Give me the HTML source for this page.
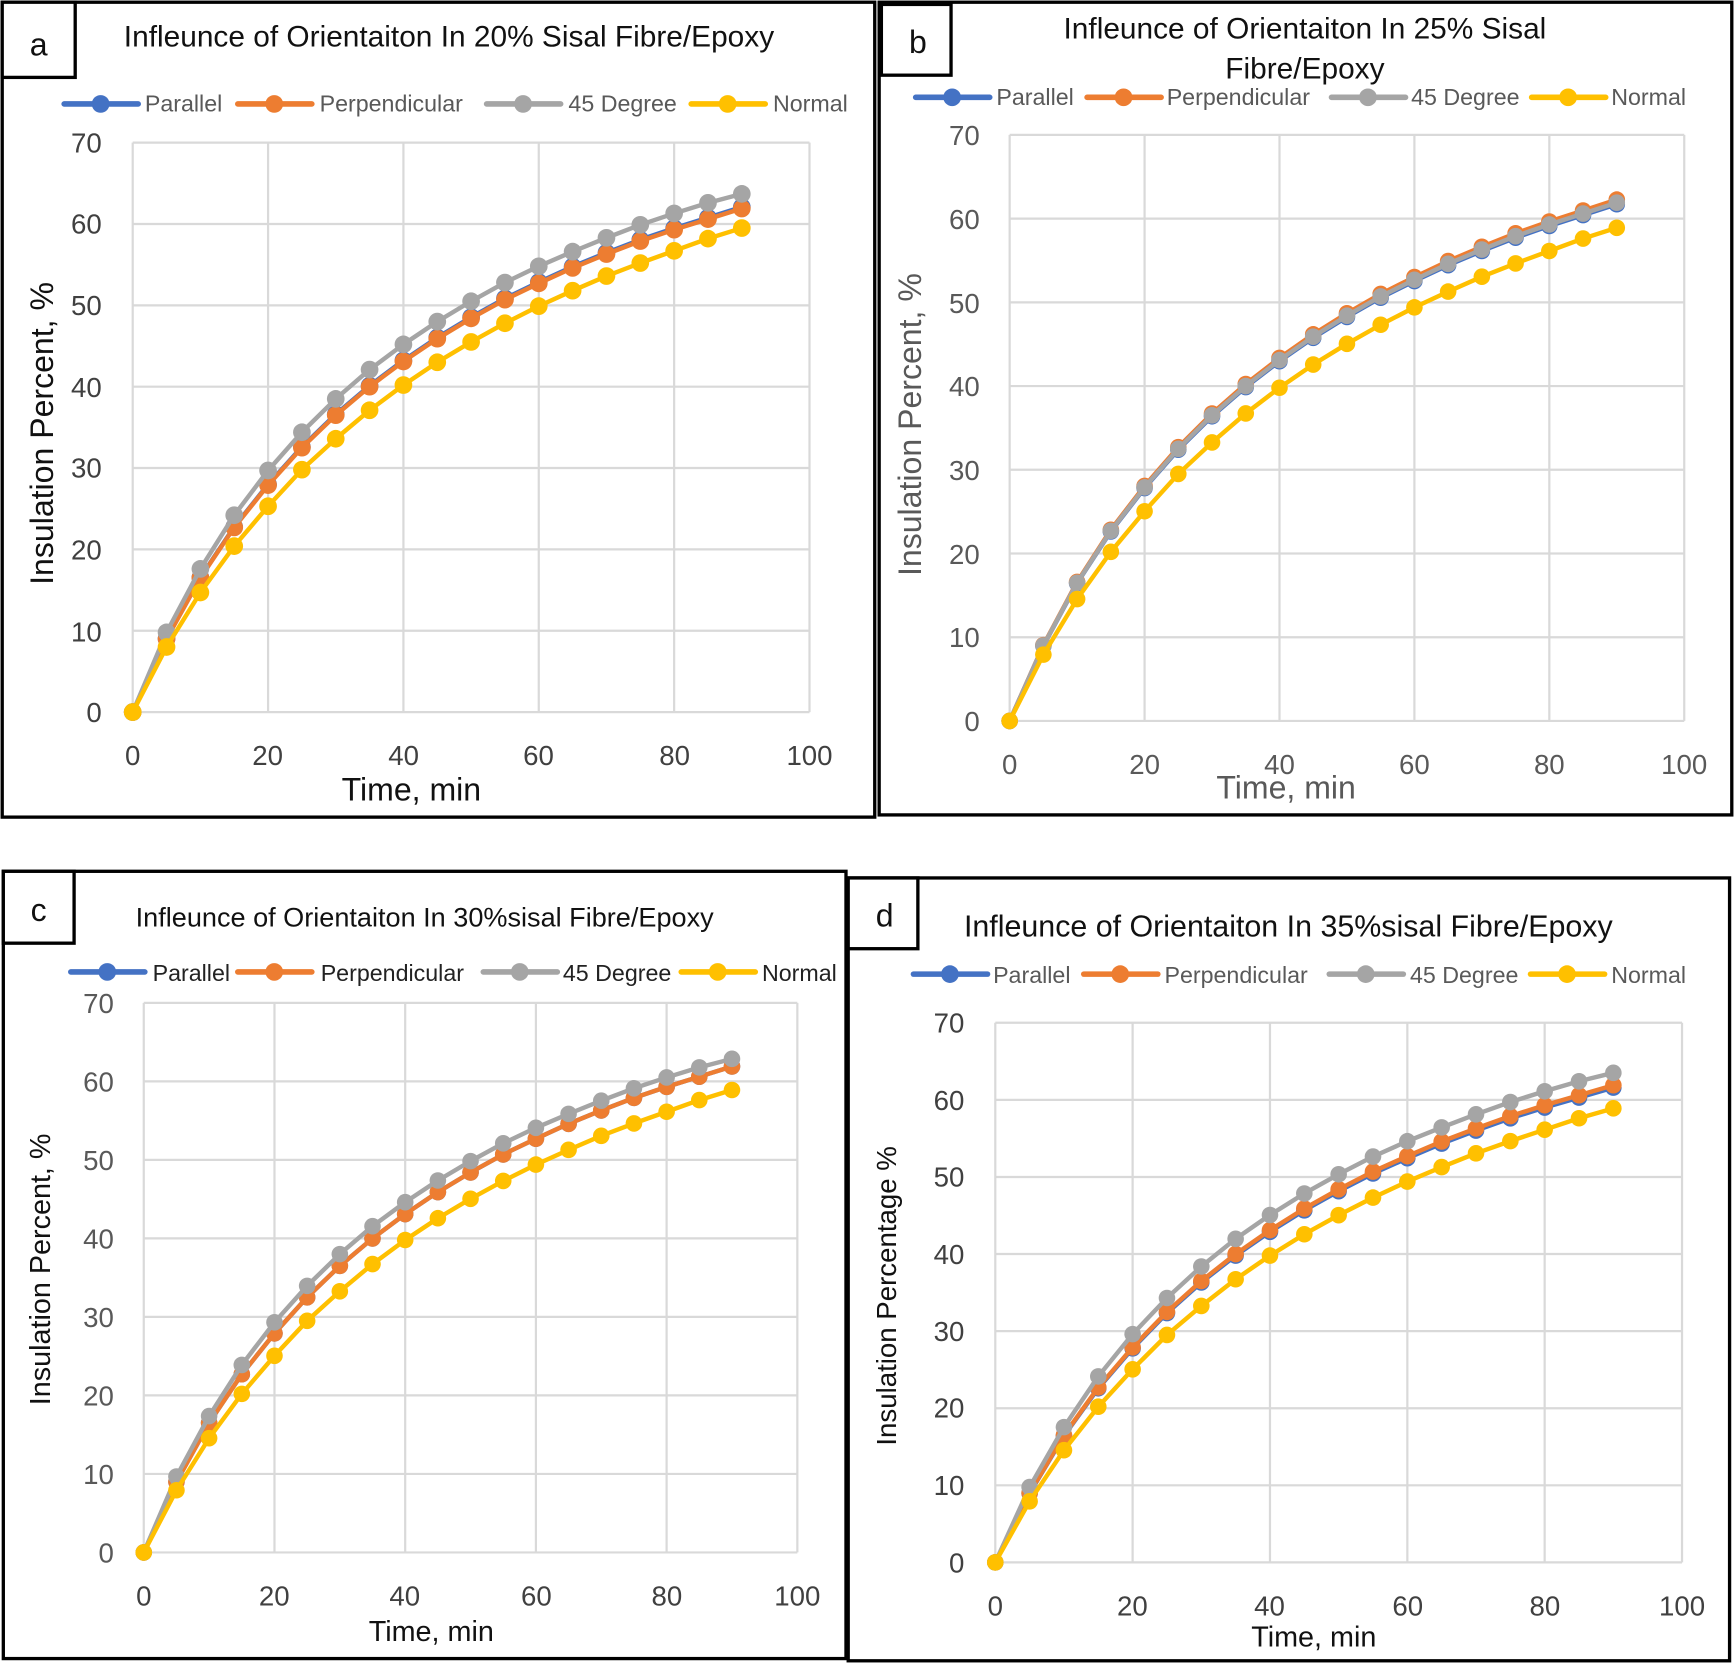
<!DOCTYPE html>
<html><head><meta charset="utf-8"><style>
html,body{margin:0;padding:0;background:#fff}
svg{display:block}
text{font-family:"Liberation Sans","DejaVu Sans",sans-serif}
.tk{fill:#404040;font-size:25px}
.lg{fill:#595959;font-size:21px}
.ti{fill:#111;font-size:27px}
.at{fill:#111;font-size:29px}
.gr{stroke:#d9d9d9;stroke-width:2;fill:none}
</style></head><body>
<svg id="s" width="1734" height="1663" viewBox="0 0 1568 1504" preserveAspectRatio="none" xmlns="http://www.w3.org/2000/svg">
<rect width="1568" height="1504" fill="#fff"/>
<rect x="2" y="2" width="789" height="737" fill="none" stroke="#000" stroke-width="3"/>
<rect x="2" y="2" width="66" height="68" fill="#fff" stroke="#000" stroke-width="3"/>
<text x="35" y="50" class="at" text-anchor="middle">a</text>
<rect x="795" y="2" width="771" height="735" fill="none" stroke="#000" stroke-width="3"/>
<rect x="797" y="4" width="63" height="64" fill="#fff" stroke="#000" stroke-width="3"/>
<text x="830" y="48" class="at" text-anchor="middle">b</text>
<rect x="3" y="788" width="762" height="712" fill="none" stroke="#000" stroke-width="3"/>
<rect x="3" y="788" width="64" height="65" fill="#fff" stroke="#000" stroke-width="3"/>
<text x="35" y="833" class="at" text-anchor="middle">c</text>
<rect x="767" y="794" width="797" height="708" fill="none" stroke="#000" stroke-width="3"/>
<rect x="767" y="794" width="63" height="64" fill="#fff" stroke="#000" stroke-width="3"/>
<text x="800" y="838" class="at" text-anchor="middle">d</text>

<text x="406" y="42" class="ti" text-anchor="middle">Infleunce of Orientaiton In 20% Sisal Fibre/Epoxy</text>
<text x="1180" y="35" class="ti" text-anchor="middle">Infleunce of Orientaiton In 25% Sisal</text>
<text x="1180" y="71" class="ti" text-anchor="middle">Fibre/Epoxy</text>
<text x="384" y="838" class="ti" text-anchor="middle" style="font-size:24.5px">Infleunce of Orientaiton In 30%sisal Fibre/Epoxy</text>
<text x="1165" y="847" class="ti" text-anchor="middle" style="font-size:27.5px">Infleunce of Orientaiton In 35%sisal Fibre/Epoxy</text>

<g class="lg">
<text x="131" y="101">Parallel</text><text x="289" y="101">Perpendicular</text><text x="514" y="101">45 Degree</text><text x="699" y="101">Normal</text>
<text x="901" y="95">Parallel</text><text x="1055" y="95">Perpendicular</text><text x="1276" y="95">45 Degree</text><text x="1457" y="95">Normal</text>
<text x="138" y="887" style="fill:#222">Parallel</text><text x="290" y="887" style="fill:#222">Perpendicular</text><text x="509" y="887" style="fill:#222">45 Degree</text><text x="689" y="887" style="fill:#222">Normal</text>
<text x="898" y="889">Parallel</text><text x="1053" y="889">Perpendicular</text><text x="1275" y="889">45 Degree</text><text x="1457" y="889">Normal</text>
</g>

<g class="tk" text-anchor="end">
<text x="92" y="653">0</text><text x="92" y="580">10</text><text x="92" y="506">20</text><text x="92" y="432">30</text><text x="92" y="359">40</text><text x="92" y="285">50</text><text x="92" y="211">60</text><text x="92" y="138">70</text>
</g>
<g class="tk" text-anchor="middle">
<text x="120" y="692">0</text><text x="242" y="692">20</text><text x="365" y="692">40</text><text x="487" y="692">60</text><text x="610" y="692">80</text><text x="732" y="692">100</text>
</g>
<text x="372" y="724" class="at" text-anchor="middle">Time, min</text>
<text transform="translate(48,392) rotate(-90)" class="at" text-anchor="middle">Insulation Percent, %</text>

<g class="tk" text-anchor="end" style="fill:#595959">
<text x="886" y="661">0</text><text x="886" y="585">10</text><text x="886" y="510">20</text><text x="886" y="434">30</text><text x="886" y="358">40</text><text x="886" y="283">50</text><text x="886" y="207">60</text><text x="886" y="131">70</text>
</g>
<g class="tk" text-anchor="middle" style="fill:#595959">
<text x="913" y="700">0</text><text x="1035" y="700">20</text><text x="1157" y="700">40</text><text x="1279" y="700">60</text><text x="1401" y="700">80</text><text x="1523" y="700">100</text>
</g>
<text x="1163" y="722" class="at" text-anchor="middle" style="fill:#595959">Time, min</text>
<text transform="translate(833,384) rotate(-90)" class="at" text-anchor="middle" style="fill:#595959">Insulation Percent, %</text>

<g class="tk" text-anchor="end" style="fill:#595959">
<text x="103" y="1413">0</text><text x="103" y="1342">10</text><text x="103" y="1271">20</text><text x="103" y="1200">30</text><text x="103" y="1129">40</text><text x="103" y="1058">50</text><text x="103" y="987">60</text><text x="103" y="916">70</text>
</g>
<g class="tk" text-anchor="middle">
<text x="130" y="1452">0</text><text x="248" y="1452">20</text><text x="366" y="1452">40</text><text x="485" y="1452">60</text><text x="603" y="1452">80</text><text x="721" y="1452">100</text>
</g>
<text x="390" y="1484" class="at" text-anchor="middle" style="font-size:26px">Time, min</text>
<text transform="translate(45,1148) rotate(-90)" class="at" text-anchor="middle" style="font-size:26px">Insulation Percent, %</text>

<g class="tk" text-anchor="end">
<text x="872" y="1422">0</text><text x="872" y="1352">10</text><text x="872" y="1282">20</text><text x="872" y="1213">30</text><text x="872" y="1143">40</text><text x="872" y="1073">50</text><text x="872" y="1004">60</text><text x="872" y="934">70</text>
</g>
<g class="tk" text-anchor="middle">
<text x="900" y="1461">0</text><text x="1024" y="1461">20</text><text x="1148" y="1461">40</text><text x="1273" y="1461">60</text><text x="1397" y="1461">80</text><text x="1521" y="1461">100</text>
</g>
<text x="1188" y="1489" class="at" text-anchor="middle" style="font-size:26px">Time, min</text>
<text transform="translate(810,1172) rotate(-90)" class="at" text-anchor="middle" style="font-size:25px">Insulation Percentage %</text>

<g id="plots"></g>
</svg>
<script>
(function(){
var NS="http://www.w3.org/2000/svg",g=document.getElementById("plots");
function el(n,a){var e=document.createElementNS(NS,n);for(var k in a)e.setAttribute(k,a[k]);g.appendChild(e);return e;}
var G=[0,9.8,17.6,24.2,29.7,34.4,38.5,42.1,45.2,48.0,50.5,52.8,54.8,56.6,58.3,59.9,61.3,62.6,63.7];
var P=[0,9,16.5,22.7,27.9,32.5,36.5,40.0,43.1,45.9,48.4,50.7,52.7,54.6,56.3,57.9,59.3,60.6,61.9];
var N=[0,8,14.7,20.4,25.3,29.8,33.6,37.1,40.2,43,45.5,47.8,49.9,51.8,53.6,55.2,56.7,58.2,59.5];
var C=["#4472C4","#ED7D31","#A5A5A5","#FFC000"];
var panels=[
 {x0:120,x1:732,y0:644,y1:129,f:[[P,1.003],[P,1],[G,1],[N,1]],ly:94,leg:[58,215,440,625],r:8,w:4},
 {x0:913,x1:1523,y0:652,y1:122,f:[[P,0.997],[P,1.006],[P,1.0],[N,0.99]],ly:88,leg:[828,983,1204,1385],r:7.5,w:4},
 {x0:130,x1:721,y0:1404,y1:907,f:[[P,1.0],[P,1.0],[G,0.987],[N,0.99]],ly:879,leg:[64,215,437,616],r:7.5,w:4},
 {x0:900,x1:1521,y0:1413,y1:925,f:[[P,0.995],[P,1.0],[G,0.997],[N,0.99]],ly:881,leg:[826,980,1202,1384],r:7.5,w:4}
];
panels.forEach(function(p){
 var i;
 for(i=1;i<=7;i++){var y=p.y0+(p.y1-p.y0)*i/7;el("line",{x1:p.x0,x2:p.x1,y1:y,y2:y,"class":"gr"});}
 for(i=1;i<=5;i++){var x=p.x0+(p.x1-p.x0)*i/5;el("line",{x1:x,x2:x,y1:p.y0,y2:p.y1,"class":"gr"});}
 el("line",{x1:p.x0,x2:p.x0,y1:p.y0,y2:p.y1,"class":"gr"});
 el("line",{x1:p.x0,x2:p.x1,y1:p.y0,y2:p.y0,"class":"gr"});
 p.f.forEach(function(s,k){
  var pts=[];
  for(var j=0;j<19;j++){var x=p.x0+(p.x1-p.x0)*(j*5)/100,y=p.y0+(p.y1-p.y0)*(s[0][j]*s[1])/70;pts.push([x,y]);}
  el("polyline",{points:pts.map(function(q){return q.join(",")}).join(" "),fill:"none",stroke:C[k],"stroke-width":p.w,"stroke-linejoin":"round"});
  pts.forEach(function(q){el("circle",{cx:q[0],cy:q[1],r:p.r,fill:C[k]});});
  var lx=p.leg[k];
  el("line",{x1:lx,x2:lx+67,y1:p.ly,y2:p.ly,stroke:C[k],"stroke-width":5,"stroke-linecap":"round"});
  el("circle",{cx:lx+33,cy:p.ly,r:8,fill:C[k]});
 });
});
})();
</script>
</body></html>
